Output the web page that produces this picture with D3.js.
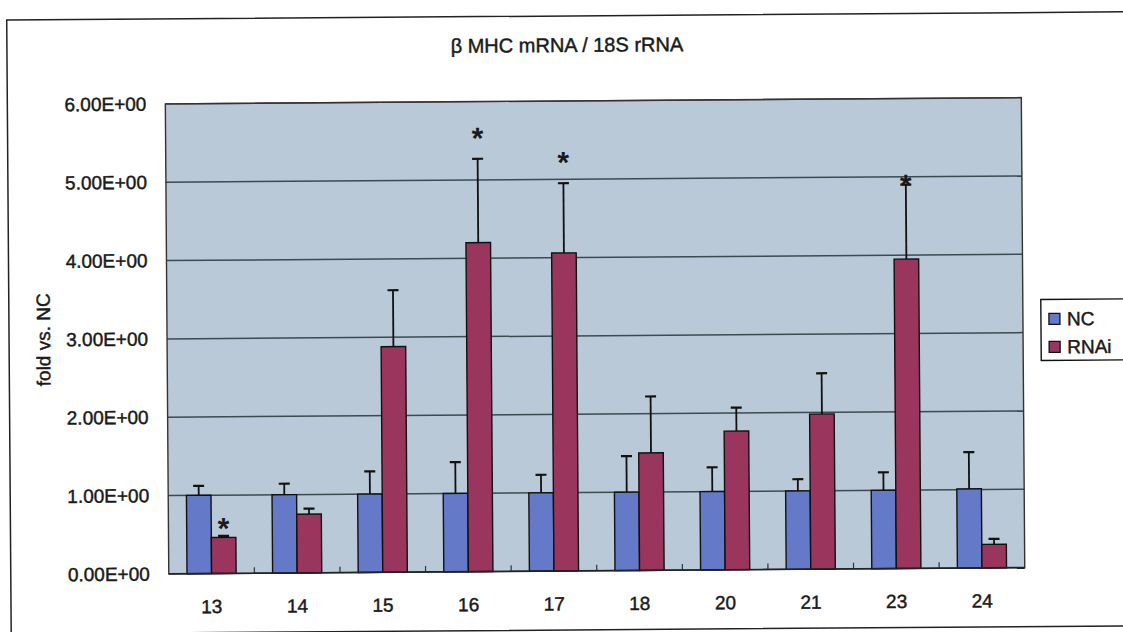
<!DOCTYPE html>
<html>
<head>
<meta charset="utf-8">
<script src="https://cdn.jsdelivr.net/npm/d3@7"></script>
<style>
  html, body { margin: 0; padding: 0; background: #fff; }
  svg { display: block; font-family: "Liberation Sans", Arial, sans-serif; }
</style>
</head>
<body>
<svg id="chart" width="1123" height="632"></svg>
<script>
// Fractions 13–24, relative expression (fold vs. NC)
const categories = ["13", "14", "15", "16", "17", "18", "20", "21", "23", "24"];
const seriesNames = ["NC", "RNAi"];
const ncValues   = [1.00, 1.00, 1.00, 1.00, 1.00, 1.00, 1.00, 1.00, 1.00, 1.01];
const ncErrors   = [0.12, 0.14, 0.29, 0.40, 0.23, 0.46, 0.31, 0.15, 0.23, 0.47];
const rnaiValues = [0.46, 0.75, 2.88, 4.20, 4.06, 1.50, 1.77, 1.98, 3.95, 0.30];
const rnaiErrors = [0.02, 0.07, 0.72, 1.07, 0.89, 0.72, 0.30, 0.52, 0.95, 0.07];
// significance marks: category and height of the asterisk
const starCats   = ["13", "16", "17", "23"];
const starLevels = [0.66, 5.62, 5.30, 4.98];
const yTicks      = [0, 1, 2, 3, 4, 5, 6];
const yTickLabels = ["0.00E+00", "1.00E+00", "2.00E+00", "3.00E+00", "4.00E+00", "5.00E+00", "6.00E+00"];
const titleText = "\u03B2 MHC mRNA / 18S rRNA";
const yTitle = "fold vs. NC";

const colors = { NC: "#6479c8", RNAi: "#9a365e" };
const ink = "#1a1a1a";
const font = "\"Liberation Sans\", Arial, sans-serif";

const svg = d3.select("#chart");
const root = svg.append("g").attr("transform", "rotate(-0.42 561 330)");

const plot = { left: 167, right: 1023, top: 101, bottom: 571 };

// outer frame
root.append("rect")
  .attr("x", 9).attr("y", 16).attr("width", 1200).attr("height", 614)
  .attr("fill", "none").attr("stroke", "#222").attr("stroke-width", 1.5);

const x = d3.scaleBand().domain(categories).range([plot.left, plot.right]).padding(0);
const y = d3.scaleLinear().domain([0, 6]).range([plot.bottom, plot.top]);
const barW = x.bandwidth() * 0.287;

// plot area
root.append("rect")
  .attr("x", plot.left).attr("y", plot.top)
  .attr("width", plot.right - plot.left).attr("height", plot.bottom - plot.top)
  .attr("fill", "#bac9d7");

// gridlines
root.append("g")
  .selectAll("line").data(yTicks.slice(1))
  .join("line")
  .attr("x1", plot.left).attr("x2", plot.right)
  .attr("y1", d => y(d)).attr("y2", d => y(d))
  .attr("stroke", "#3d4a52").attr("stroke-width", 1.5);

// plot border
root.append("rect")
  .attr("x", plot.left).attr("y", plot.top)
  .attr("width", plot.right - plot.left).attr("height", plot.bottom - plot.top)
  .attr("fill", "none").attr("stroke", "#333").attr("stroke-width", 1.4);

// bars
const rows = categories.map((c, i) => ({
  cat: c,
  vals: [
    { s: "NC", v: ncValues[i], e: ncErrors[i], k: 0 },
    { s: "RNAi", v: rnaiValues[i], e: rnaiErrors[i], k: 1 }
  ]
}));

const groups = root.append("g").selectAll("g").data(rows).join("g")
  .attr("transform", d => `translate(${x(d.cat) + x.bandwidth() / 2 - barW},0)`);

// error bars (upper only)
groups.selectAll("g.err").data(d => d.vals).join("g").attr("class", "err")
  .each(function (d) {
    const g = d3.select(this);
    const cx = d.k * barW + barW / 2;
    g.append("line").attr("x1", cx).attr("x2", cx)
      .attr("y1", y(d.v)).attr("y2", y(d.v + d.e))
      .attr("stroke", "#111").attr("stroke-width", 1.8);
    g.append("line").attr("x1", cx - 5.5).attr("x2", cx + 5.5)
      .attr("y1", y(d.v + d.e)).attr("y2", y(d.v + d.e))
      .attr("stroke", "#111").attr("stroke-width", 2.2);
  });

groups.selectAll("rect").data(d => d.vals).join("rect")
  .attr("x", d => d.k * barW)
  .attr("y", d => y(d.v))
  .attr("width", barW)
  .attr("height", d => y(0) - y(d.v))
  .attr("fill", d => colors[d.s])
  .attr("stroke", "#111").attr("stroke-width", 1.4);

// x axis: inward ticks at category boundaries
const xTickPos = categories.slice(1).map(c => x(c));
root.append("g").selectAll("line").data(xTickPos).join("line")
  .attr("x1", d => d).attr("x2", d => d)
  .attr("y1", plot.bottom).attr("y2", plot.bottom - 6)
  .attr("stroke", "#333").attr("stroke-width", 1.2);
root.append("line")
  .attr("x1", plot.left).attr("x2", plot.right)
  .attr("y1", plot.bottom).attr("y2", plot.bottom)
  .attr("stroke", "#222").attr("stroke-width", 1.6);

function styleText(sel, size) {
  sel.attr("font-size", size).attr("fill", ink).attr("font-family", font)
    .attr("stroke", ink).attr("stroke-width", 0.45);
}

const xAxis = d3.axisBottom(x).tickSize(0).tickPadding(26);
const xg = root.append("g").attr("transform", `translate(0,${plot.bottom})`).call(xAxis);
xg.select(".domain").remove();
styleText(xg.selectAll("text"), 19);

// y axis labels
const yAxis = d3.axisLeft(y).tickValues(yTicks).tickSize(0).tickPadding(19)
  .tickFormat((d, i) => yTickLabels[i]);
const yg = root.append("g").attr("transform", `translate(${plot.left},0)`).call(yAxis);
yg.select(".domain").remove();
styleText(yg.selectAll("text"), 19);

// significance asterisks above RNAi bars
root.append("g").selectAll("text").data(starCats.map((c, i) => ({ c, lv: starLevels[i] })))
  .join("text")
  .attr("x", d => x(d.c) + x.bandwidth() / 2 + barW / 2)
  .attr("y", d => y(d.lv) + 17)
  .attr("text-anchor", "middle")
  .attr("font-size", 30).attr("font-weight", "bold").attr("fill", ink)
  .text("*");

// title
styleText(root.append("text")
  .attr("x", 569).attr("y", 52)
  .attr("text-anchor", "middle")
  .text(titleText), 20);

// y axis title
styleText(root.append("text")
  .attr("transform", `translate(50,${(plot.top + plot.bottom) / 2}) rotate(-90)`)
  .attr("text-anchor", "middle")
  .text(yTitle), 19);

// legend
const leg = root.append("g").attr("transform", "translate(1041,303)");
leg.append("rect").attr("width", 120).attr("height", 61)
  .attr("fill", "#fff").attr("stroke", "#111").attr("stroke-width", 1.4);
leg.selectAll("g").data(seriesNames).join("g")
  .attr("transform", (d, i) => `translate(8,${14 + i * 28})`)
  .each(function (d) {
    const g = d3.select(this);
    g.append("rect").attr("width", 11).attr("height", 11)
      .attr("fill", colors[d]).attr("stroke", "#111").attr("stroke-width", 1.3);
    styleText(g.append("text").attr("x", 18).attr("y", 12).text(d), 19);
  });
</script>
</body>
</html>
